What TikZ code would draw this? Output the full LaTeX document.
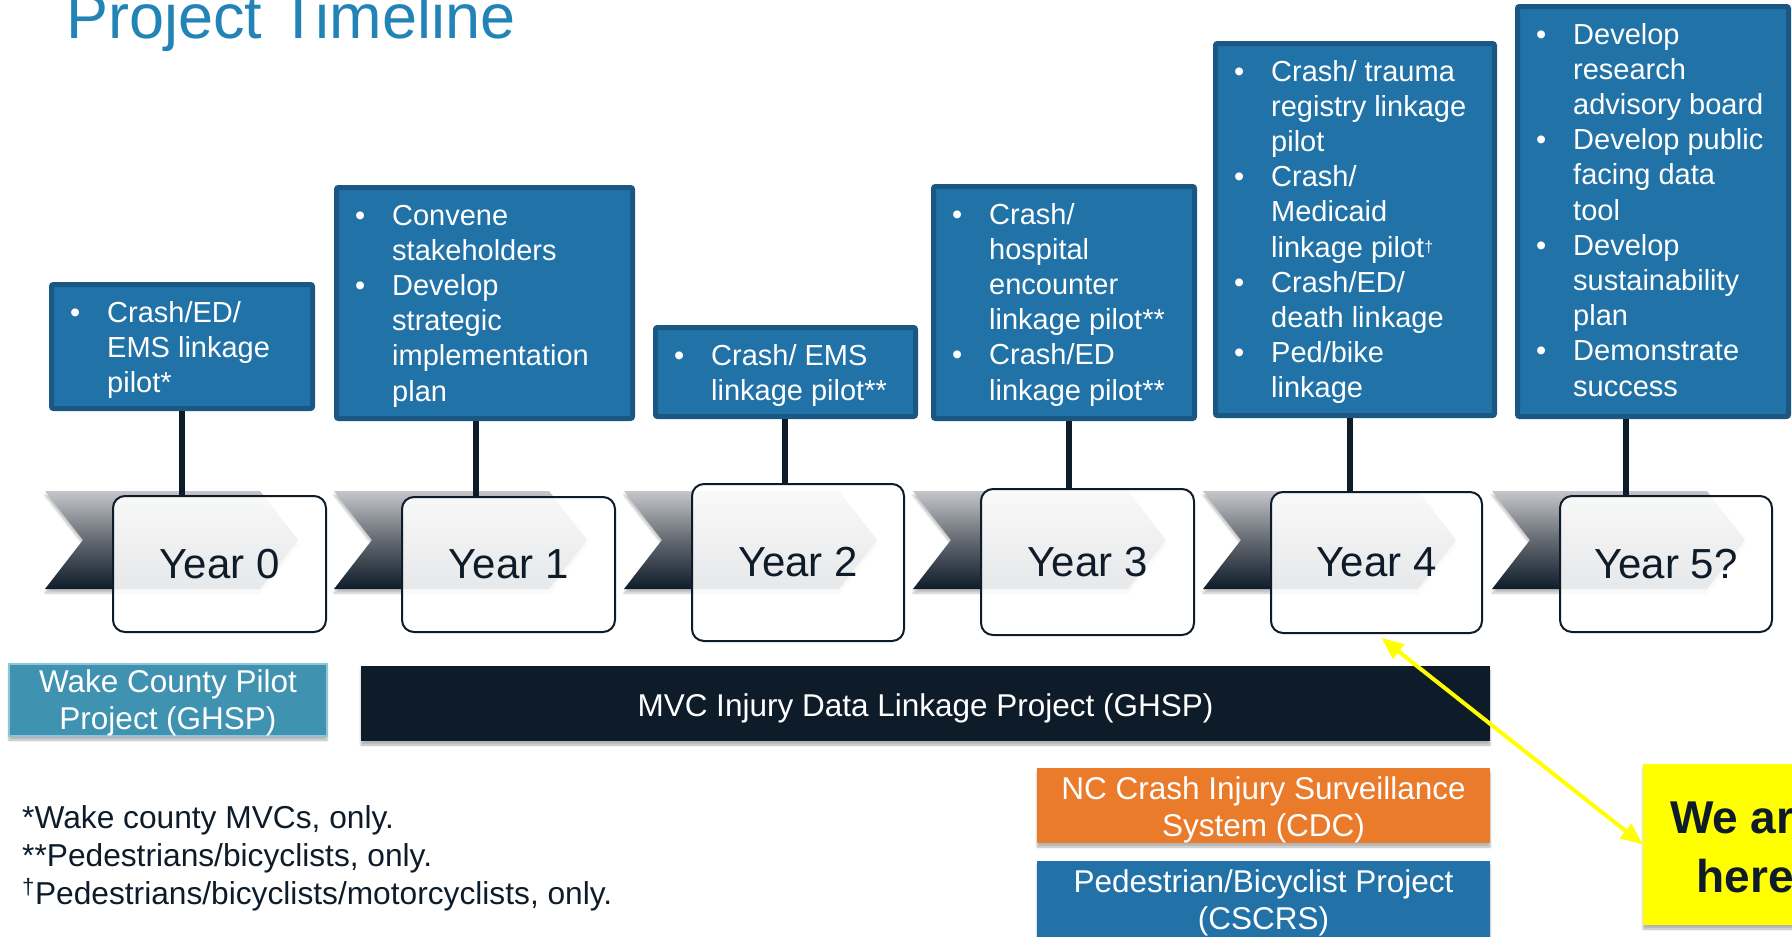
\documentclass[tikz,border=0pt]{standalone}
\usepackage{fontspec}
\setmainfont{Liberation Sans}
\usetikzlibrary{arrows.meta,shadows.blur}

\definecolor{boxblue}{RGB}{33,114,167}
\definecolor{boxedge}{RGB}{26,87,130}
\definecolor{navy}{RGB}{14,28,42}
\definecolor{wakeblue}{RGB}{63,146,176}
\definecolor{wakeedge}{RGB}{141,198,218}
\definecolor{ncorange}{RGB}{233,123,43}
\definecolor{pedblue}{RGB}{34,114,168}
\definecolor{titleblue}{RGB}{34,132,182}
\definecolor{chevtop}{RGB}{196,198,202}
\definecolor{chevmid}{RGB}{100,105,113}
\definecolor{hereyellow}{RGB}{255,255,0}

\newcommand\smalldagger{\raisebox{5pt}{\fontsize{16}{16}\selectfont †}}

\tikzset{
  taskbox/.style={draw=boxedge, line width=5pt, fill=boxblue, rounded corners=2pt, inner sep=0pt},
  tasktext/.style={anchor=base west, inner sep=0pt, text=white, font=\fontsize{29}{35.2}\selectfont},
  yearbox/.style={draw=navy, line width=2pt, fill=white, fill opacity=0.9, text opacity=1,
    rounded corners=12pt, inner sep=0pt, text=navy, font=\fontsize{42}{50}\selectfont},
  chevron/.style={top color=chevtop, bottom color=navy, middle color=chevmid,
    blur shadow={shadow xshift=0pt, shadow yshift=-4pt, shadow opacity=25, shadow blur steps=6}},
  stem/.style={draw=navy, line width=5.5pt},
  bar/.style={inner sep=0pt, blur shadow={shadow xshift=0pt, shadow yshift=-4pt, shadow opacity=30, shadow blur steps=6}},
  bartext/.style={anchor=base, inner sep=0pt, text=white, font=\fontsize{31.5}{37.5}\selectfont},
  yarrow/.style={draw=hereyellow, line width=4pt, {Triangle[length=22pt,width=18pt]}-{Triangle[length=22pt,width=18pt]}},
}

\begin{document}
\begin{tikzpicture}[x=1pt,y=-1pt]
\path[use as bounding box] (0,0) rectangle (1792,937);
\clip (0,0) rectangle (1792,937);

% title
\node[anchor=base west, inner sep=0pt, text=titleblue, font=\fontsize{63}{70}\selectfont] (title) at (66,38) {Project Timeline};

% chevron band
\foreach \L in {45,334,624,913,1203,1492} {
  \shade[chevron] (\L,491) -- ++(215,0) -- ++(38,49) -- ++(-38,49) -- ++(-215,0) -- ++(38,-49) -- cycle;
}

% year boxes
\node[yearbox, minimum width=213pt, minimum height=136pt] (y0) at (219.5,564) {Year 0};
\node[yearbox, minimum width=213pt, minimum height=135pt] (y1) at (508.5,564.5) {Year 1};
\node[yearbox, minimum width=212pt, minimum height=157pt] (y2) at (798,562.5) {Year 2};
\node[yearbox, minimum width=213pt, minimum height=146pt] (y3) at (1087.5,562) {Year 3};
\node[yearbox, minimum width=211pt, minimum height=141pt] (y4) at (1376.5,562.5) {Year 4};
\node[yearbox, minimum width=212pt, minimum height=136pt] (y5) at (1666,564) {Year 5?};

% task boxes
\node[taskbox, minimum width=261pt, minimum height=124pt] (b0) at (182,346.5) {};
\node[taskbox, minimum width=296pt, minimum height=231pt] (b1) at (484.5,303) {};
\node[taskbox, minimum width=260pt, minimum height=89pt] (b2) at (785.5,372) {};
\node[taskbox, minimum width=261pt, minimum height=232pt] (b3) at (1064,302.5) {};
\node[taskbox, minimum width=279pt, minimum height=372pt] (b4) at (1355,229.5) {};
\node[taskbox, minimum width=271pt, minimum height=410pt] (b5) at (1653,211.5) {};

\node[tasktext] (t0) at (70,322) {\begin{tabular}[t]{@{}p{37pt}@{}l@{}}
• & Crash/ED/\\ & EMS linkage\\ & pilot*\end{tabular}};
\node[tasktext] (t1) at (355,225) {\begin{tabular}[t]{@{}p{37pt}@{}l@{}}
• & Convene\\ & stakeholders\\ • & Develop\\ & strategic\\ & implementation\\ & plan\end{tabular}};
\node[tasktext] (t2) at (674,365) {\begin{tabular}[t]{@{}p{37pt}@{}l@{}}
• & Crash/ EMS\\ & linkage pilot**\end{tabular}};
\node[tasktext] (t3) at (952,224) {\begin{tabular}[t]{@{}p{37pt}@{}l@{}}
• & Crash/\\ & hospital\\ & encounter\\ & linkage pilot**\\ • & Crash/ED\\ & linkage pilot**\end{tabular}};
\node[tasktext] (t4) at (1234,81) {\begin{tabular}[t]{@{}p{37pt}@{}l@{}}
• & Crash/ trauma\\ & registry linkage\\ & pilot\\ • & Crash/\\ & Medicaid\\ & linkage pilot\smalldagger\\
• & Crash/ED/\\ & death linkage\\ • & Ped/bike\\ & linkage\end{tabular}};
\node[tasktext] (t5) at (1536,44) {\begin{tabular}[t]{@{}p{37pt}@{}l@{}}
• & Develop\\ & research\\ & advisory board\\ • & Develop public\\ & facing data\\ & tool\\
• & Develop\\ & sustainability\\ & plan\\ • & Demonstrate\\ & success\end{tabular}};

% stems from task boxes down to the year boxes
\coordinate (k0) at (182,0);
\coordinate (k1) at (476,0);
\coordinate (k2) at (785,0);
\coordinate (k3) at (1069,0);
\coordinate (k4) at (1350,0);
\coordinate (k5) at (1626,0);
\draw[stem] (b0.south -| k0) -- (y0.north -| k0);
\draw[stem] (b1.south -| k1) -- (y1.north -| k1);
\draw[stem] (b2.south -| k2) -- (y2.north -| k2);
\draw[stem] (b3.south -| k3) -- (y3.north -| k3);
\draw[stem] (b4.south -| k4) -- (y4.north -| k4);
\draw[stem] (b5.south -| k5) -- (y5.north -| k5);

% funding bars
\node[bar, fill=wakeblue, draw=wakeedge, line width=2pt, minimum width=318pt, minimum height=72pt] (wake) at (168,700) {};
\node[bartext] (waket) at (168,692) {\begin{tabular}[t]{@{}c@{}}Wake County Pilot\\Project (GHSP)\end{tabular}};

\node[bar, fill=navy, minimum width=1129pt, minimum height=75pt] (mvc) at (925.5,703.5) {};
\node[bartext] (mvct) at (925.5,716) {MVC Injury Data Linkage Project (GHSP)};

\node[bar, fill=ncorange, minimum width=453pt, minimum height=75pt] (nc) at (1263.5,805.5) {};
\node[bartext] (nct) at (1263.5,799) {\begin{tabular}[t]{@{}c@{}}NC Crash Injury Surveillance\\System (CDC)\end{tabular}};

\node[bar, fill=pedblue, minimum width=453pt, minimum height=76pt] (ped) at (1263.5,899) {};
\node[bartext] (pedt) at (1263.5,892) {\begin{tabular}[t]{@{}c@{}}Pedestrian/Bicyclist Project\\(CSCRS)\end{tabular}};

% footnotes
\node[anchor=base west, inner sep=0pt, text=navy, font=\fontsize{31.7}{38}\selectfont] (notes) at (22,828)
  {\begin{tabular}[t]{@{}l@{}}*Wake county MVCs, only.\\{}**Pedestrians/bicyclists, only.\\{}\textsuperscript{†}Pedestrians/bicyclists/motorcyclists, only.\end{tabular}};

% current position marker
\node[bar, fill=hereyellow, minimum width=204pt, minimum height=161pt] (here) at (1745,844.5) {};
\node[anchor=base, inner sep=0pt, text=navy, font=\fontsize{46}{59}\selectfont\bfseries] (heret) at (1745,833)
  {\begin{tabular}[t]{@{}c@{}}We are\\here\end{tabular}};
\draw[yarrow] (here.west) -- ([xshift=5pt,yshift=-4pt]y4.south);
\end{tikzpicture}
\end{document}
